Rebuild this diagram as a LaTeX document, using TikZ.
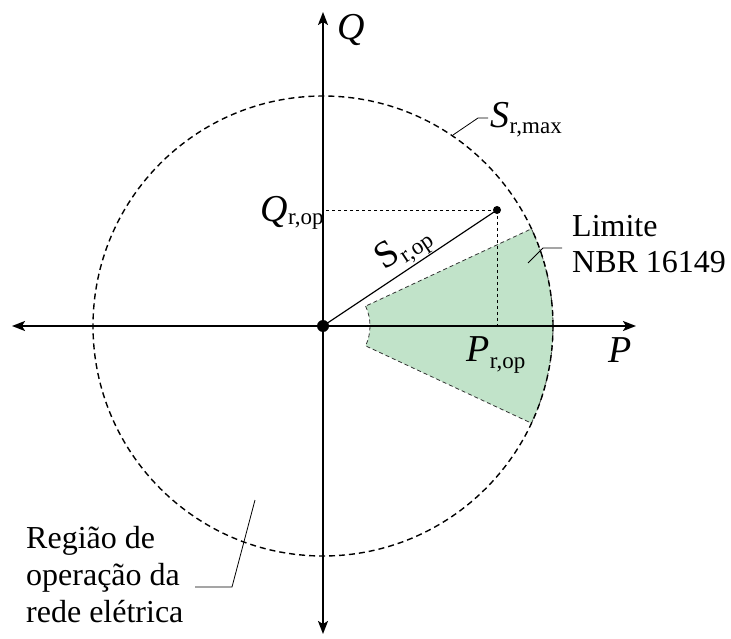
\documentclass[tikz,border=0pt]{standalone}
\usepackage{fontspec}
\setmainfont{Liberation Serif}
\usetikzlibrary{arrows.meta,calc}
\definecolor{sectorgreen}{RGB}{193,227,201}
\newcommand{\mysub}[2][6pt]{\kern0.5pt\raisebox{-#1}{\fontsize{23}{23}\selectfont\upshape #2}}
\begin{document}
\begin{tikzpicture}[x=1pt,y=1pt,
  axisline/.style={line width=1.8pt},
  circ/.style={line width=1.4pt, dash pattern=on 6pt off 4pt},
  sect/.style={draw=black!80, line width=0.8pt, dash pattern=on 4pt off 3pt},
  guide/.style={line width=0.9pt, dash pattern=on 3pt off 3pt},
  leader/.style={line width=0.8pt},
  biglab/.style={anchor=base west, inner sep=0pt, font=\fontsize{38}{38}\selectfont},
  txt/.style={anchor=base west, inner sep=0pt, font=\fontsize{32}{32}\selectfont}]
\useasboundingbox (0,0) rectangle (731,638);
\coordinate (O) at (323,312);
\coordinate (xl) at (12,312);
\coordinate (xr) at (636,312);
\coordinate (yb) at (323,4);
\coordinate (yt) at (323,626);
\coordinate (op) at (497,428);
\coordinate (qop) at (323,428);
\coordinate (pop) at (497,312);
% sector
\fill[sectorgreen] ($(O)+(25:47)$) arc[start angle=25,end angle=-25,radius=47] -- ($(O)+(-25:230)$) arc[start angle=-25,end angle=25,radius=230] -- cycle;
\draw[sect] ($(O)+(25:47)$) arc[start angle=25,end angle=-25,radius=47] -- ($(O)+(-25:230)$) arc[start angle=-25,end angle=25,radius=230] -- cycle;
% circle
\draw[circ] (O) circle[radius=230];
% guides
\draw[guide] (op) -- (qop);
\draw[guide] (op) -- (pop);
% axes
\draw[axisline, {Stealth[length=13pt,width=10pt,inset=3pt]}-{Stealth[length=13pt,width=10pt,inset=3pt]}] (xl) -- (xr);
\draw[axisline, {Stealth[length=13pt,width=10pt,inset=3pt]}-{Stealth[length=13pt,width=10pt,inset=3pt]}] (yb) -- (yt);
% op line
\draw[line width=1.2pt] (O) -- (op);
\fill (O) circle[radius=6];
\fill (op) circle[radius=4];
% labels
\node[biglab, font=\fontsize{38}{38}\selectfont\itshape] (qlab) at (337,598) {Q};
\node[biglab, font=\fontsize{38}{38}\selectfont\itshape] (plab) at (608,275) {P};
\node[biglab] (smax) at (490,510) {\textit{S}\mysub{r,max}};
\node[biglab] (qoplab) at (260,416) {\textit{Q}\mysub[3pt]{r,op}};
\node[biglab] (poplab) at (466,276) {\textit{P}\mysub[6pt]{r,op}};
\node[inner sep=0pt, rotate=33.7, font=\fontsize{38}{38}\selectfont] (soplab) at (404,389) {S\mysub[6pt]{r,op}};
\node[txt] (lim1) at (572,401) {Limite};
\node[txt] (lim2) at (572,365) {NBR 16149};
\node[txt] (reg1) at (26,90) {Região de};
\node[txt] (reg2) at (26,53) {operação da};
\node[txt] (reg3) at (26,16) {rede elétrica};
% leaders
\coordinate (la) at (453,503); \coordinate (lb) at (478,520); \coordinate (lc) at (488,520);
\draw[leader] (la) -- (lb) -- (lc);
\coordinate (ma) at (528,375); \coordinate (mb) at (543,390); \coordinate (mc) at (562,390);
\draw[leader] (ma) -- (mb) -- (mc);
\coordinate (ra) at (255,138); \coordinate (rb) at (232,51); \coordinate (rc) at (195,51);
\draw[leader] (ra) -- (rb) -- (rc);
\end{tikzpicture}
\end{document}
